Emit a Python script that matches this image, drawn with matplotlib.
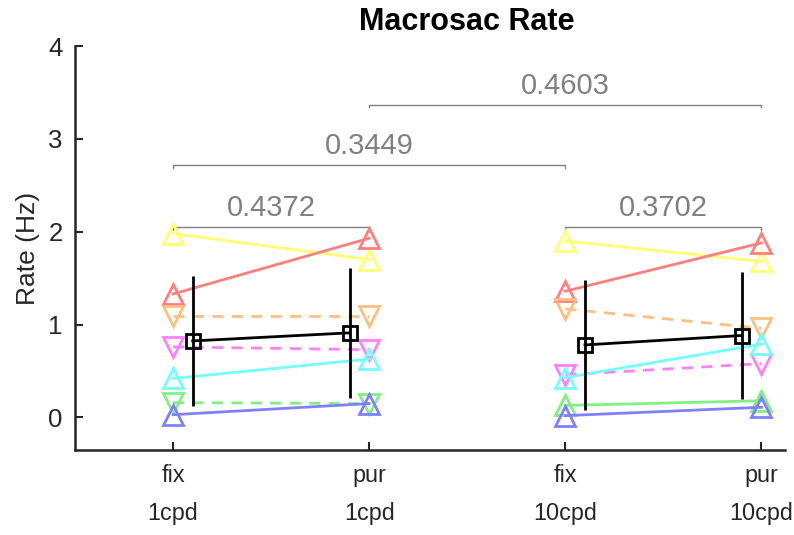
import numpy as np
import matplotlib.pyplot as plt

plt.rcParams['font.family'] = ['Liberation Sans', 'DejaVu Sans']

# conditions on the x axis
cond_labels = ['fix\n1cpd', 'pur\n1cpd', 'fix\n10cpd', 'pur\n10cpd']

# macrosaccade rate per subject (Hz)
fix_1cpd = [1.98, 1.33, 1.09, 0.76, 0.42, 0.16, 0.03]
pur_1cpd = [1.70, 1.93, 1.09, 0.73, 0.63, 0.15, 0.15]
fix_10cpd = [1.90, 1.36, 1.17, 0.46, 0.43, 0.13, 0.02]
pur_10cpd = [1.68, 1.88, 0.96, 0.58, 0.79, 0.18, 0.11]

subj_colors = ['#ffff73', '#ff7f7f', '#ffbf80', '#ff80ff', '#73ffff', '#80f080', '#8080ff']
markers_1cpd = ['^', '^', 'v', 'v', '^', 'v', '^']
markers_10cpd = ['^', '^', 'v', 'v', '^', '^', '^']

# paired comparisons: (x1, x2), p value, bracket height
pairs = [(1, 2), (3, 4), (1, 3), (2, 4)]
p_vals = ['0.4372', '0.3702', '0.3449', '0.4603']
bracket_y = [2.05, 2.05, 2.72, 3.37]

fig = plt.figure(figsize=(7.94, 5.35), dpi=100)
ax = fig.add_axes([75 / 794, 85 / 535, 710 / 794, 404 / 535])

groups = [(1, 2, fix_1cpd, pur_1cpd, markers_1cpd),
          (3, 4, fix_10cpd, pur_10cpd, markers_10cpd)]

for xa, xb, ya, yb, mks in groups:
    for i in range(len(ya)):
        ls = '-' if mks[i] == '^' else (0, (4, 3))
        ax.plot([xa, xb], [ya[i], yb[i]], color=subj_colors[i], lw=2.0,
                linestyle=ls, marker=mks[i], ms=15, mew=2.0,
                mfc='none', mec=subj_colors[i], zorder=2)

    # group mean +- sd, shifted inwards
    m = [np.mean(ya), np.mean(yb)]
    s = [np.std(ya, ddof=1), np.std(yb, ddof=1)]
    xm = [xa + 0.1, xb - 0.1]
    ax.errorbar(xm, m, yerr=s, color='k', lw=2.0, marker='s', ms=10,
                mew=2.0, mfc='none', mec='k', capsize=0, zorder=3)

for (x1, x2), p, yb in zip(pairs, p_vals, bracket_y):
    ax.plot([x1, x1, x2, x2], [yb - 0.03, yb, yb, yb - 0.03],
            color='#808080', lw=1.0, zorder=1)
    ax.text((x1 + x2) / 2, yb + 0.05, p, ha='center', va='bottom',
            fontsize=21, color='#808080')

ax.set_xlim(0.5, 4.12)
ax.set_ylim(-0.35, 4)
ax.set_xticks([1, 2, 3, 4])
ax.set_xticklabels(cond_labels, linespacing=1.85)
ax.set_yticks([0, 1, 2, 3, 4])
ax.tick_params(direction='in', length=6, width=1.5, colors='#262626')
ax.tick_params(axis='x', pad=10, labelsize=16.8)
ax.tick_params(axis='y', pad=9, labelsize=18.5)

for side in ['top', 'right']:
    ax.spines[side].set_visible(False)
for side in ['left', 'bottom']:
    ax.spines[side].set_linewidth(1.8)
    ax.spines[side].set_color('#262626')

ax.set_ylabel('Rate (Hz)', fontsize=19, color='#262626')
ax.yaxis.set_label_coords(-0.05, 0.5)

fig.text(467 / 794, 1 - 22 / 535, 'Macrosac Rate', ha='center', va='center',
         fontsize=22, fontweight='bold')

fig.savefig('out.png', dpi=100)
